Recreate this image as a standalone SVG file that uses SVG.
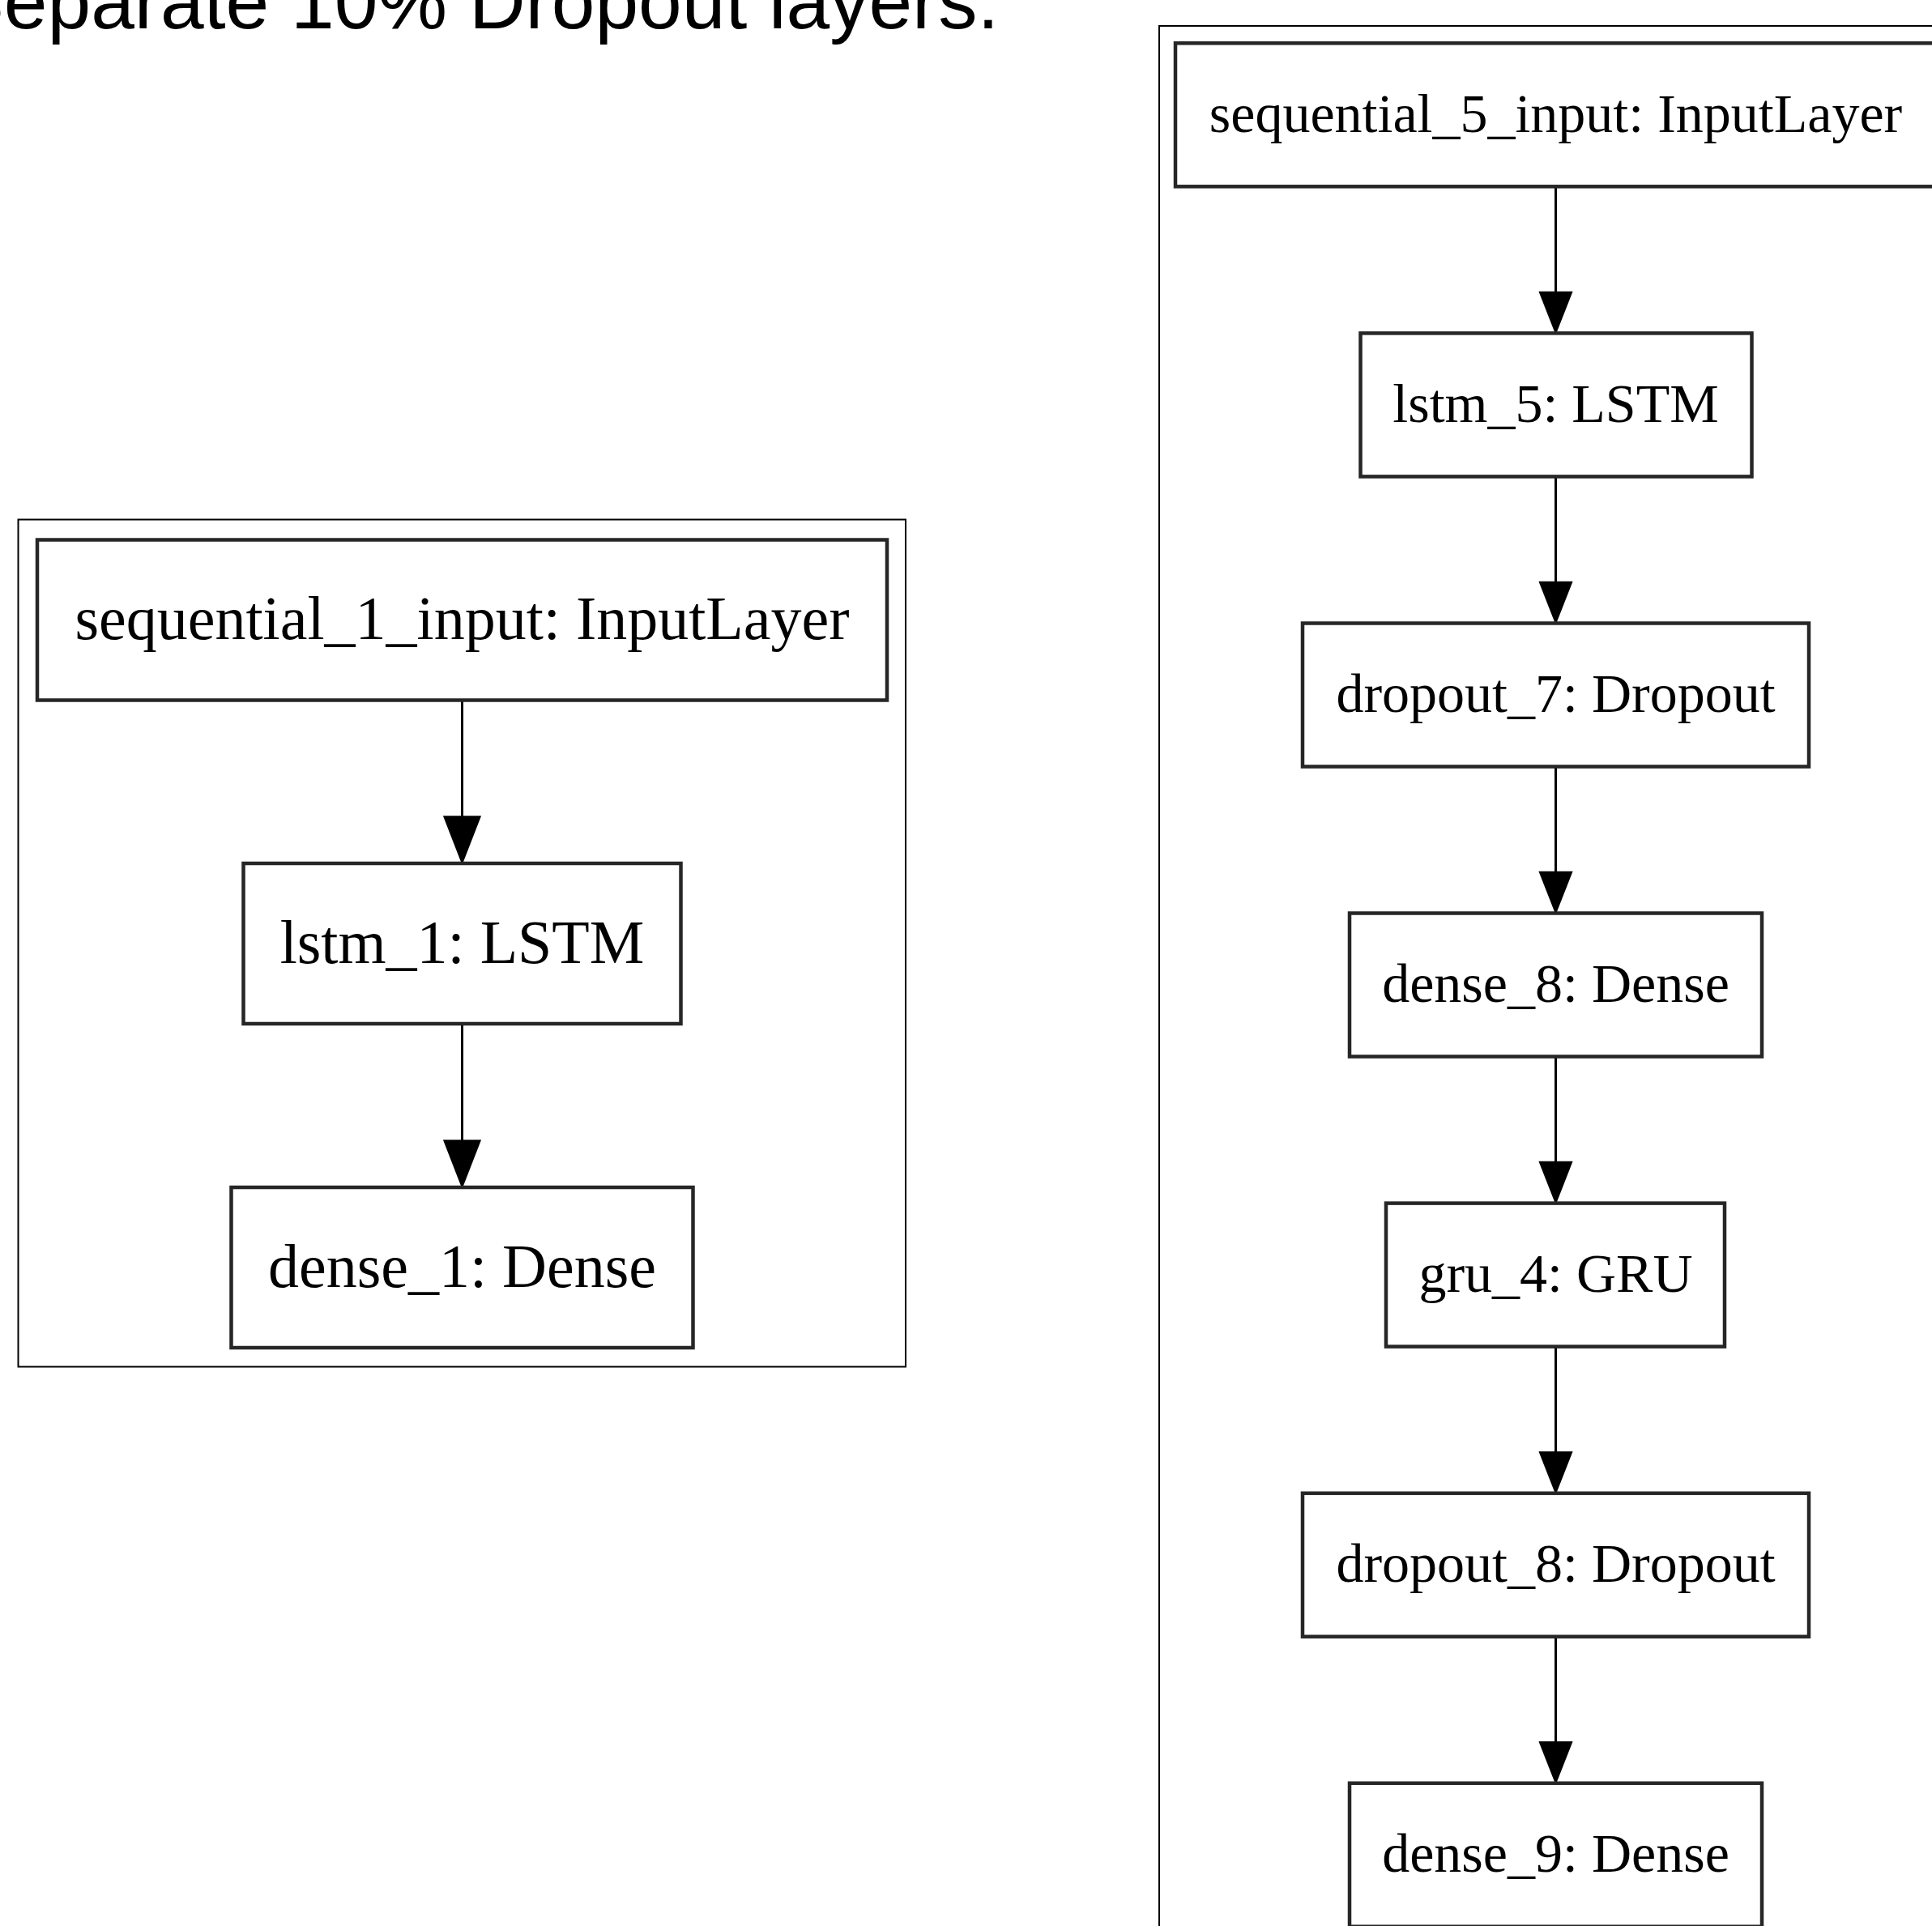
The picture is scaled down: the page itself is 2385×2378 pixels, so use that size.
<svg xmlns="http://www.w3.org/2000/svg" width="2385" height="2378" viewBox="0 0 2385 2378">
<style>
.frame{fill:none;stroke:#000;stroke-width:2}
.box{fill:#fff;stroke:#262626;stroke-width:4.5}
.edge{stroke:#000;stroke-width:3;fill:none}
.head{fill:#000;stroke:#000;stroke-width:1.5;stroke-linejoin:miter}
.lbl{font-family:"Liberation Serif","Times New Roman",serif;fill:#000;text-anchor:middle}
.l76{font-size:76px}
.l68{font-size:68px}
.title{font-family:"Liberation Sans",Arial,sans-serif;font-size:96.5px;fill:#000}
</style>
<rect x="0" y="0" width="2385" height="2378" fill="#fff"/>
<text class="title" x="-59.5" y="35">Separate 10% Dropout layers.</text>

<g id="frame-left"><rect class="frame" x="22.5" y="641.5" width="1095.5" height="1046"/></g>
<g id="frame-right"><rect class="frame" x="1431" y="32" width="1100" height="2500"/></g>

<g id="connectors">
  <line class="edge" x1="570.5" y1="865" x2="570.5" y2="1012"/>
  <polygon class="head" points="570.5,1066 548,1008 593,1008"/>
  <line class="edge" x1="570.5" y1="1264" x2="570.5" y2="1412"/>
  <polygon class="head" points="570.5,1466 548,1408 593,1408"/>

  <line class="edge" x1="1920.5" y1="230.3" x2="1920.5" y2="364"/>
  <polygon class="head" points="1920.5,411.4 1900.5,360.4 1940.5,360.4"/>
  <line class="edge" x1="1920.5" y1="588.4" x2="1920.5" y2="722"/>
  <polygon class="head" points="1920.5,769.5 1900.5,718.5 1940.5,718.5"/>
  <line class="edge" x1="1920.5" y1="946.5" x2="1920.5" y2="1080"/>
  <polygon class="head" points="1920.5,1127.5 1900.5,1076.5 1940.5,1076.5"/>
  <line class="edge" x1="1920.5" y1="1304.5" x2="1920.5" y2="1438"/>
  <polygon class="head" points="1920.5,1485.6 1900.5,1434.6 1940.5,1434.6"/>
  <line class="edge" x1="1920.5" y1="1662.6" x2="1920.5" y2="1796"/>
  <polygon class="head" points="1920.5,1843.7 1900.5,1792.7 1940.5,1792.7"/>
  <line class="edge" x1="1920.5" y1="2020.7" x2="1920.5" y2="2154"/>
  <polygon class="head" points="1920.5,2201.7 1900.5,2150.7 1940.5,2150.7"/>
</g>

<g id="sequential_1_input">
  <rect class="box" x="46" y="666.5" width="1049" height="198"/>
  <text class="lbl l76" x="570.5" y="789">sequential_1_input: InputLayer</text>
</g>
<g id="lstm_1">
  <rect class="box" x="300.5" y="1066" width="540" height="198"/>
  <text class="lbl l76" x="570.5" y="1188.5">lstm_1: LSTM</text>
</g>
<g id="dense_1">
  <rect class="box" x="285.5" y="1466" width="570" height="198"/>
  <text class="lbl l76" x="570.5" y="1588.5">dense_1: Dense</text>
</g>

<g id="sequential_5_input">
  <rect class="box" x="1451" y="53.3" width="939" height="177"/>
  <text class="lbl l68" x="1920.5" y="163">sequential_5_input: InputLayer</text>
</g>
<g id="lstm_5">
  <rect class="box" x="1679.5" y="411.4" width="483" height="177"/>
  <text class="lbl l68" x="1920.5" y="521">lstm_5: LSTM</text>
</g>
<g id="dropout_7">
  <rect class="box" x="1608" y="769.5" width="625" height="177"/>
  <text class="lbl l68" x="1920.5" y="879">dropout_7: Dropout</text>
</g>
<g id="dense_8">
  <rect class="box" x="1666" y="1127.5" width="509" height="177"/>
  <text class="lbl l68" x="1920.5" y="1237">dense_8: Dense</text>
</g>
<g id="gru_4">
  <rect class="box" x="1711" y="1485.6" width="418" height="177"/>
  <text class="lbl l68" x="1920.5" y="1595">gru_4: GRU</text>
</g>
<g id="dropout_8">
  <rect class="box" x="1608" y="1843.7" width="625" height="177"/>
  <text class="lbl l68" x="1920.5" y="1953">dropout_8: Dropout</text>
</g>
<g id="dense_9">
  <rect class="box" x="1666" y="2201.7" width="509" height="177"/>
  <text class="lbl l68" x="1920.5" y="2311">dense_9: Dense</text>
</g>
</svg>
